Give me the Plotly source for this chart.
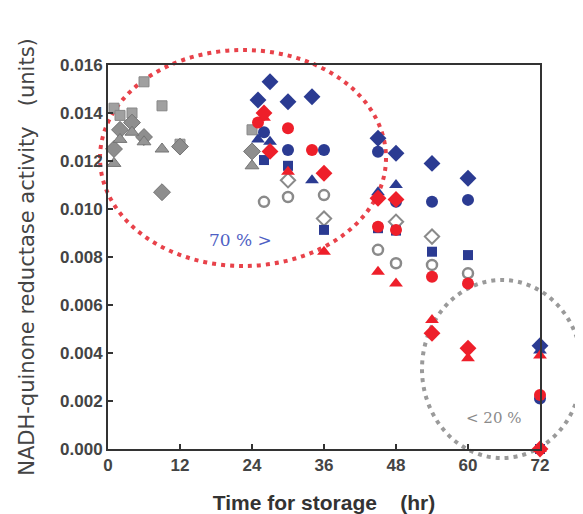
import plotly.graph_objects as go

# ---- data (hours, activity units) ----
gray_sq_x = [1, 2, 4, 6, 9, 12, 24]
gray_sq_y = [0.0142, 0.0139, 0.0140, 0.0153, 0.0143, 0.0127, 0.0133]
gray_di_x = [1, 2, 4, 6, 9, 12, 24]
gray_di_y = [0.0125, 0.0133, 0.0136, 0.0130, 0.0107, 0.0126, 0.0124]
gray_tr_x = [1, 2, 4, 6, 9, 24]
gray_tr_y = [0.0119, 0.0129, 0.0132, 0.0128, 0.0125, 0.0118]

open_ci_x = [26, 30, 36, 45, 48, 54, 60]
open_ci_y = [0.0103, 0.0105, 0.01058, 0.0083, 0.00774, 0.00767, 0.00732]
open_di_x = [30, 36, 48, 54]
open_di_y = [0.0112, 0.0096, 0.00947, 0.00885]

blue_di_x = [25, 27, 30, 34, 45, 48, 54, 60, 72]
blue_di_y = [0.01454, 0.0153, 0.01447, 0.01468, 0.01295, 0.01232, 0.0119, 0.01128, 0.0043]
blue_ci_x = [26, 30, 36, 45, 48, 54, 60, 72]
blue_ci_y = [0.0132, 0.01246, 0.01246, 0.01239, 0.0103, 0.0103, 0.01038, 0.0021]
blue_sq_x = [26, 30, 36, 45, 48, 54, 60, 72]
blue_sq_y = [0.01204, 0.0118, 0.00913, 0.0092, 0.0091, 0.00822, 0.00808, 0.0]
blue_tr_x = [25, 27, 34, 45, 48, 72]
blue_tr_y = [0.0129, 0.0128, 0.0112, 0.0107, 0.0110, 0.0041]

red_di_x = [26, 27, 36, 45, 48, 54, 60, 72]
red_di_y = [0.0140, 0.0124, 0.01149, 0.01045, 0.0104, 0.00482, 0.0042, 0.0]
red_ci_x = [25, 30, 34, 45, 48, 54, 60, 72]
red_ci_y = [0.0136, 0.01336, 0.01246, 0.00926, 0.00913, 0.00718, 0.0069, 0.00225]
red_tr_x = [26, 30, 36, 45, 48, 54, 60, 72, 72]
red_tr_y = [0.0138, 0.01155, 0.00822, 0.00739, 0.0069, 0.00538, 0.00378, 0.0039, 0.0]

x_ticks = [0, 12, 24, 36, 48, 60, 72]
y_ticks = [0.000, 0.002, 0.004, 0.006, 0.008, 0.010, 0.012, 0.014, 0.016]

BLUE = "#2b3b92"
RED = "#ee1f2a"

fig = go.Figure()

def add(x, y, symbol, color, size, line_color=None, line_w=0, fill=None):
    fig.add_trace(go.Scatter(
        x=x, y=y, mode="markers", showlegend=False, cliponaxis=False,
        marker=dict(symbol=symbol, size=size,
                    color=fill if fill else color,
                    line=dict(color=line_color if line_color else color, width=line_w)),
    ))

add(gray_sq_x, gray_sq_y, "square", "#a0a0a0", 10, "#888888", 1)
add(gray_di_x, gray_di_y, "diamond", "#8e8e8e", 13, "#747474", 1)
add(gray_tr_x, gray_tr_y, "triangle-up", "#959595", 12, "#747474", 1)
add(open_ci_x, open_ci_y, "circle", "#8a8a8a", 10, "#8a8a8a", 2.5, fill="white")
add(open_di_x, open_di_y, "diamond", "#8a8a8a", 11, "#8a8a8a", 2, fill="white")
add(blue_sq_x, blue_sq_y, "square", BLUE, 10)
add(blue_ci_x, blue_ci_y, "circle", BLUE, 12)
add(blue_tr_x, blue_tr_y, "triangle-up", BLUE, 12)
add(blue_di_x, blue_di_y, "diamond", BLUE, 13)
add(red_ci_x, red_ci_y, "circle", RED, 12)
add(red_tr_x, red_tr_y, "triangle-up", RED, 12)
add(red_di_x, red_di_y, "diamond", RED, 13)

# page body offset is 8px; plot area target: x 108..540, y 65..449 (screen)
OFF = 8
W, H = 575, 506
L, T = 108 - OFF, 65 - OFF
pw, ph = 432, 384
R = W - L - pw
B = H - T - ph

def px(xp):
    return (xp - 108) / pw

def py(yp):
    return (449 - yp) / ph

fig.add_shape(type="circle", xref="paper", yref="paper",
              x0=px(100), x1=px(386), y0=py(266), y1=py(50),
              line=dict(color="#e8424a", width=4, dash="4px,5px"), layer="below")
fig.add_shape(type="circle", xref="paper", yref="paper",
              x0=px(422), x1=px(582), y0=py(458), y1=py(280),
              line=dict(color="#9a9a9a", width=4, dash="4px,5px"), layer="below")

fig.add_annotation(x=22, y=0.0087, xref="x", yref="y", text="70 % >",
                   showarrow=False, font=dict(family="DejaVu Serif, serif", size=17, color="#4f5fc4"))
fig.add_annotation(x=64.2, y=0.00128, xref="x", yref="y", text="< 20 %",
                   showarrow=False, font=dict(family="DejaVu Serif, serif", size=15, color="#8a8a8a"))

axis_common = dict(showline=True, linecolor="#333333", linewidth=2, mirror=True,
                   ticks="inside", ticklen=5, tickwidth=2, tickcolor="#333333",
                   showgrid=False, zeroline=False, automargin=False,
                   tickfont=dict(family="Liberation Sans, Arial", size=17, color="#444444", weight="bold"))

fig.update_xaxes(range=[0, 72], tickvals=x_ticks, ticktext=[str(v) for v in x_ticks],
                 title=dict(text="Time for storage    (hr)", standoff=22,
                            font=dict(family="Liberation Sans, Arial", size=21, color="#333333", weight="bold")),
                 **axis_common)
fig.update_yaxes(range=[0, 0.016], tickvals=y_ticks, ticktext=[f"{v:.3f}" for v in y_ticks],
                 title=dict(text="NADH-quinone reductase activity   (units)", standoff=20,
                            font=dict(family="DejaVu Sans, Arial", size=21, color="#444444")),
                 **axis_common)

fig.update_layout(width=W, height=H, margin=dict(l=L, r=R, t=T, b=B),
                  plot_bgcolor="white", paper_bgcolor="white")

fig.write_html("out.html")
